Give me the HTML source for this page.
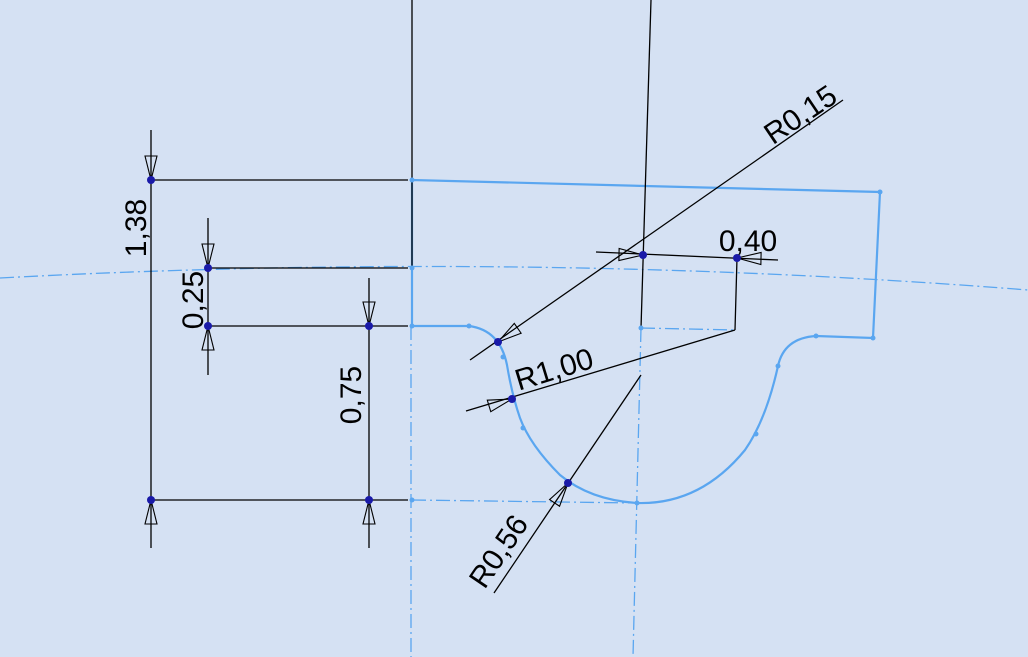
<!DOCTYPE html>
<html><head><meta charset="utf-8"><style>
html,body{margin:0;padding:0;background:#d5e1f3;}
svg{display:block}
text{font-family:"Liberation Sans","DejaVu Sans",sans-serif;font-size:30px;fill:#000}
</style></head><body>
<svg id="sk" width="1028" height="657" viewBox="0 0 1028 657">
<g id="construction" fill="none" stroke="#5aa6f0" stroke-width="1.3" stroke-dasharray="14,4,2,4">
  <path d="M0,278 Q520,250 1028,290"/>
  <path d="M411,326 L411,657"/>
  <path d="M412,500 L637,503"/>
  <path d="M641,328 L633,657"/>
  <path d="M641,328 L735,330"/>
</g>
<g id="profile" fill="none" stroke="#5aa6f0" stroke-width="2.2">
  <path d="M412,326 L412,180 L880,192 L873,338 L816,336 Q784,338 778,366 Q766,420 745,450 Q700,505 637,503 Q590,500 560,475 Q530,445 520,418 Q512,395 507,365 Q500,330 469,326 Z"/>
</g>
<g id="blackLines" stroke="#000" stroke-width="1.3" fill="none">
  <path d="M412,0 L412,268"/>
  <path d="M651,0 L641,328"/>
  <path d="M151,130 L151,548 M151,180 L408,180 M151,500 L408,500"/>
  <path d="M208,218 L208,375 M208,268 L408,268 M208,326 L408,326"/>
  <path d="M369,278 L369,548"/>
  <path d="M843,100 L470,360"/>
  <path d="M596,252 L778,260 M737,258 L735,330"/>
  <path d="M735,330 L466,411"/>
  <path d="M641,375 L494,593"/>
</g>
<g id="arrows" stroke="#000" stroke-width="1.1" fill="none"></g>
<g id="dots"></g>
<text transform="translate(146,228) rotate(-90)" text-anchor="middle">1,38</text>
<text transform="translate(203,300) rotate(-90)" text-anchor="middle">0,25</text>
<text transform="translate(361,395) rotate(-90)" text-anchor="middle">0,75</text>
<text transform="translate(806,123) rotate(-34)" text-anchor="middle">R0,15</text>
<text transform="translate(748,251)" text-anchor="middle">0,40</text>
<text transform="translate(557,379) rotate(-17)" text-anchor="middle">R1,00</text>
<text transform="translate(507,557) rotate(-56)" text-anchor="middle">R0,56</text>
</svg>
<script>
const dimLabels=["1,38","0,25","0,75","R0,15","0,40","R1,00","R0,56"];
const dotPts=[[151,180],[151,500],[208,268],[208,326],[369,326],[369,500],[643,255],[737,258],[498,342],[512,399],[568,483]];
const smallPts=[[412,180],[412,268],[412,326],[412,500],[880,192],[873,338],[816,336],[778,366],[756,434],[637,503],[523,428],[503,357],[469,326],[641,328]];
const arrowDefs=[[151,180,0,1],[151,500,0,-1],[208,268,0,1],[208,326,0,-1],[369,326,0,1],[369,500,0,-1],[643,255,1,0.02],[737,258,-1,-0.02],[498,342,-0.82,0.57],[512,399,0.96,-0.29],[568,483,0.56,-0.83]];
const NS="http://www.w3.org/2000/svg";
const ag=document.getElementById('arrows');
arrowDefs.forEach(a=>{
  const [x,y,dx,dy]=a;const L=24,W=6;const n=Math.hypot(dx,dy);const ux=dx/n,uy=dy/n;
  const bx=x-ux*L,by=y-uy*L;
  const p=document.createElementNS(NS,'polygon');
  p.setAttribute('points',`${x},${y} ${bx-uy*W},${by+ux*W} ${bx+uy*W},${by-ux*W}`);
  
  
  ag.appendChild(p);
});
const dg=document.getElementById('dots');
smallPts.forEach(d=>{
  const c=document.createElementNS(NS,'circle');
  c.setAttribute('cx',d[0]);c.setAttribute('cy',d[1]);c.setAttribute('r',2.5);c.setAttribute('fill','#5aa6f0');
  
  
  dg.appendChild(c);
});
dotPts.forEach(d=>{
  const c=document.createElementNS(NS,'circle');
  c.setAttribute('cx',d[0]);c.setAttribute('cy',d[1]);c.setAttribute('r',4);c.setAttribute('fill','#1a1aa8');
  
  
  dg.appendChild(c);
});
</script>
</body></html>
